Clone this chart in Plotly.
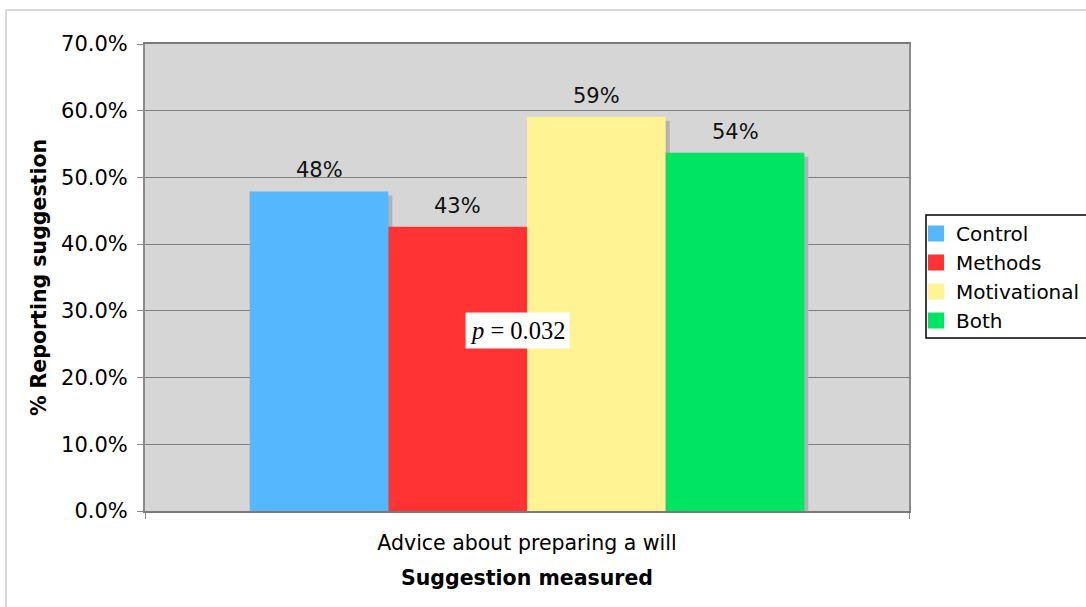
import plotly.graph_objects as go

# Survey results: share of respondents reporting the suggestion, by condition
category = ["Advice about preparing a will"]
groups = ["Control", "Methods", "Motivational", "Both"]
shares = [0.479, 0.426, 0.591, 0.537]
colors = ["#55b8ff", "#ff3333", "#fff394", "#00e463"]
y_ticks = [0.0, 0.1, 0.2, 0.3, 0.4, 0.5, 0.6, 0.7]
p_label = "<i>p</i> = 0.032"
p_y = 0.27

FONT = "DejaVu Sans, Verdana, sans-serif"
W, H = 1086, 607
M_L, M_R, M_T, M_B = 145, 177, 44, 96
plot_w = W - M_L - M_R
plot_h = H - M_T - M_B
y_max = 0.7

group_w = 0.726                      # fraction of the category slot used by the bars
bar_w = group_w / len(groups)
shadow_dx = 4 / plot_w               # drop shadow: 4 px right ...
shadow_dy = 4 / plot_h * y_max       # ... and 4 px down


def px_x(px):
    """paper x for a pixel column"""
    return (px - M_L) / plot_w


def px_y(px):
    """paper y for a pixel row"""
    return (H - M_B - px) / plot_h


fig = go.Figure()

# drop shadows behind the bars
for i, v in enumerate(shares):
    fig.add_trace(go.Bar(
        x=category, y=[v - shadow_dy],
        offset=-group_w / 2 + i * bar_w + shadow_dx, width=bar_w,
        marker=dict(color="#b2b2b2", line=dict(width=0)),
        showlegend=False, hoverinfo="skip",
    ))

# the bars
for i, (name, v, c) in enumerate(zip(groups, shares, colors)):
    fig.add_trace(go.Bar(
        x=category, y=[v], name=name,
        offset=-group_w / 2 + i * bar_w, width=bar_w,
        marker=dict(color=c, line=dict(width=0)),
        showlegend=False,
    ))
    # value label above each bar
    fig.add_annotation(
        x=-group_w / 2 + (i + 0.5) * bar_w, y=v, xref="x", yref="y",
        text=f"{v:.0%}", showarrow=False, yanchor="bottom", yshift=7,
        font=dict(family=FONT, size=21, color="#111111"),
    )

# legend entries with larger square swatches
for name, c in zip(groups, colors):
    fig.add_trace(go.Scatter(
        x=[None], y=[None], mode="markers", name=name,
        marker=dict(symbol="square", size=16, color=c),
    ))

fig.add_annotation(
    x=-0.012, y=p_y, xref="x", yref="y", text=p_label, showarrow=False,
    font=dict(family="Liberation Serif, Times New Roman, serif", size=24.5, color="#000000"),
    bgcolor="#ffffff", borderpad=4,
)

# light outer frame (top and left edges)
frame = dict(color="#d8d8d8", width=2)
fig.add_shape(type="line", xref="paper", yref="paper",
              x0=px_x(6), x1=px_x(W), y0=px_y(10), y1=px_y(10), line=frame)
fig.add_shape(type="line", xref="paper", yref="paper",
              x0=px_x(6), x1=px_x(6), y0=px_y(10), y1=px_y(H), line=frame)

# legend box outline
fig.add_shape(type="rect", xref="paper", yref="paper",
              x0=px_x(926), x1=px_x(W + 10), y0=px_y(215), y1=px_y(338),
              line=dict(color="#000000", width=1.5), fillcolor="#ffffff", layer="below")

fig.update_layout(
    width=W, height=H,
    margin=dict(l=M_L, r=M_R, t=M_T, b=M_B, autoexpand=False),
    paper_bgcolor="#ffffff", plot_bgcolor="#d6d6d6",
    barmode="overlay",
    font=dict(family=FONT, size=20, color="#000000"),
    legend=dict(
        x=px_x(916), xanchor="left",
        y=px_y(214), yanchor="top",
        borderwidth=0, bgcolor="rgba(0,0,0,0)",
        font=dict(family=FONT, size=20, color="#000000"),
        itemwidth=30,
    ),
    xaxis=dict(
        type="category", range=[-0.5, 0.5],
        showline=True, linecolor="#7a7a7a", linewidth=2, mirror=True,
        ticks="outside", tickson="boundaries", ticklen=6, tickcolor="#8a8a8a",
        showgrid=False, tickfont=dict(family=FONT, size=20.5),
        ticklabelstandoff=12,
        title=dict(text="<b>Suggestion measured</b>", font=dict(family=FONT, size=20.5), standoff=17),
    ),
    yaxis=dict(
        range=[0, y_max], tickvals=y_ticks, tickformat=".1%",
        showline=True, linecolor="#8a8a8a", linewidth=2, mirror=True,
        ticks="outside", ticklen=6, tickcolor="#8a8a8a",
        showgrid=True, gridcolor="#7f7f7f", gridwidth=1,
        zeroline=False, tickfont=dict(family=FONT, size=21),
        ticklabelstandoff=5,
        title=dict(text="<b>% Reporting suggestion</b>", font=dict(family=FONT, size=20.5), standoff=9),
    ),
)

fig.write_html("out.html")
